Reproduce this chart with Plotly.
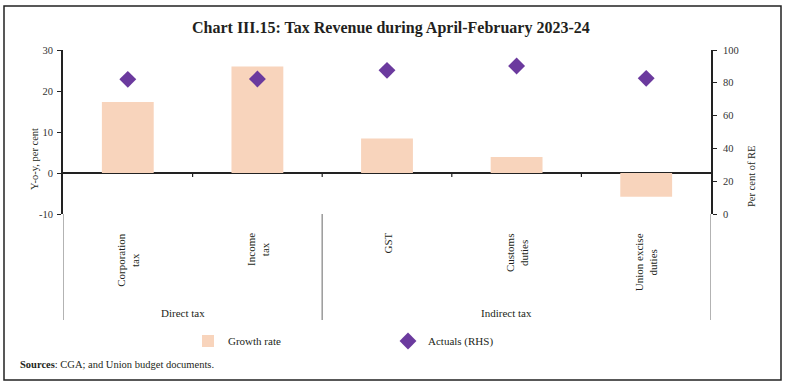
import plotly.graph_objects as go

# ---- data ----
categories = ["Corporation tax", "Income tax", "GST", "Customs duties", "Union excise duties"]
category_labels = ["Corporation<br>tax", "Income<br>tax", "GST", "Customs<br>duties", "Union excise<br>duties"]
groups = ["Direct tax", "Direct tax", "Indirect tax", "Indirect tax", "Indirect tax"]
growth_rate = [17.3, 26.0, 8.4, 3.9, -5.8]       # y-o-y, per cent (LHS)
actuals_rhs = [82.1, 82.3, 87.6, 90.2, 82.7]      # per cent of RE (RHS)
left_ticks = [-10, 0, 10, 20, 30]
left_tick_labels = ["-10", "0", "10", "20", "30"]
right_ticks = [0, 20, 40, 60, 80, 100]

# ---- layout geometry (pixels) ----
W, H = 786, 387
L, R, T, B = 63, 711, 50, 214
pw, ph = R - L, B - T


def px_x(px):
    return (px - L) / pw


def px_y(py):
    return (B - py) / ph


FONT = "Liberation Serif"
TXT = "#231f20"
BAR = "#F8D4BC"
DIA = "#6B3A9E"

fig = go.Figure()
fig.add_trace(go.Bar(
    x=categories, y=growth_rate, name="Growth rate",
    marker=dict(color=BAR, line=dict(width=0)), width=0.4,
    yaxis="y",
))
fig.add_trace(go.Scatter(
    x=categories, y=actuals_rhs, name="Actuals (RHS)", mode="markers",
    marker=dict(symbol="diamond", size=13, color=DIA),
    yaxis="y2",
))

shapes = []
# outer frame
shapes.append(dict(type="rect", xref="paper", yref="paper",
                   x0=px_x(4), x1=px_x(781), y0=px_y(380), y1=px_y(6),
                   line=dict(color="#222", width=1.5), layer="below"))
# group dividers (left, between groups, right)
group_bounds = [-0.5]
for i in range(1, len(groups)):
    if groups[i] != groups[i - 1]:
        group_bounds.append(i - 0.5)
group_bounds.append(len(groups) - 0.5)
for gb in group_bounds:
    shapes.append(dict(type="line", xref="x", yref="paper", x0=gb, x1=gb,
                       y0=0, y1=px_y(320), line=dict(color="#9a9a9a", width=1.5)))
# small category boundary ticks on the zero line
for i in range(len(categories) - 1):
    shapes.append(dict(type="line", xref="x", yref="y", x0=i + 0.5, x1=i + 0.5,
                       y0=0, y1=-1, line=dict(color="#222", width=1.2)))

annotations = []
# title
annotations.append(dict(text="<b>Chart III.15: Tax Revenue during April-February 2023-24</b>",
                        xref="paper", yref="paper", x=px_x(391), y=px_y(28),
                        xanchor="center", yanchor="middle", showarrow=False,
                        font=dict(family=FONT, size=16, color=TXT)))
# axis titles
annotations.append(dict(text="Y-o-y, per cent", xref="paper", yref="paper",
                        x=px_x(34), y=px_y(159), textangle=-90, showarrow=False,
                        xanchor="center", yanchor="middle",
                        font=dict(family=FONT, size=10.5, color=TXT)))
annotations.append(dict(text="Per cent of RE", xref="paper", yref="paper",
                        x=px_x(751), y=px_y(176), textangle=-90, showarrow=False,
                        xanchor="center", yanchor="middle",
                        font=dict(family=FONT, size=10.5, color=TXT)))
# category labels
for c, lab in zip(categories, category_labels):
    annotations.append(dict(text=lab, xref="x", yref="paper", x=c, y=px_y(231),
                            textangle=-90, showarrow=False, xanchor="center",
                            yanchor="top", align="center",
                            font=dict(family=FONT, size=11, color=TXT)))
# group labels
seen = []
for g in groups:
    if g not in seen:
        seen.append(g)
for g in seen:
    idx = [i for i, gg in enumerate(groups) if gg == g]
    annotations.append(dict(text=g, xref="x", yref="paper",
                            x=(idx[0] + idx[-1]) / 2, xshift=-10, y=px_y(313),
                            showarrow=False, xanchor="center", yanchor="middle",
                            font=dict(family=FONT, size=11, color=TXT)))
# source note
annotations.append(dict(text="<b>Sources</b>: CGA; and Union budget documents.",
                        xref="paper", yref="paper", x=px_x(18), y=px_y(364),
                        xanchor="left", yanchor="middle", showarrow=False,
                        font=dict(family=FONT, size=10.5, color=TXT)))

fig.update_layout(
    width=W, height=H,
    margin=dict(l=L, r=W - R, t=T, b=H - B, pad=0),
    paper_bgcolor="white", plot_bgcolor="white",
    font=dict(family=FONT, size=10.5, color=TXT),
    showlegend=True,
    legend=dict(orientation="h", x=px_x(188), y=px_y(341), xanchor="left",
                yanchor="middle", entrywidth=155, entrywidthmode="pixels",
                font=dict(family=FONT, size=11, color=TXT),
                bgcolor="rgba(0,0,0,0)"),
    xaxis=dict(type="category", range=[-0.5, len(categories) - 0.5],
               showticklabels=False, ticks="", showline=False, showgrid=False,
               zeroline=False, fixedrange=True),
    yaxis=dict(range=[-10, 30], tickvals=left_ticks, ticktext=left_tick_labels,
               ticks="outside", ticklen=4,
               tickwidth=1.2, tickcolor="#222", showline=True, linecolor="#222",
               linewidth=2, showgrid=False, zeroline=True, zerolinecolor="#222",
               zerolinewidth=2, tickfont=dict(family=FONT, size=10.5, color="#333"),
               ticklabelstandoff=2),
    yaxis2=dict(range=[0, 100], tickvals=right_ticks, overlaying="y", side="right",
                ticks="outside", ticklen=4, tickwidth=1.2, tickcolor="#222",
                showline=True, linecolor="#222", linewidth=2, showgrid=False,
                zeroline=False, tickfont=dict(family=FONT, size=10.5, color="#333"),
                ticklabelstandoff=4),
    shapes=shapes,
    annotations=annotations,
)

fig.write_html("out.html", config={"displayModeBar": False},
               post_script="document.body.style.margin='0';document.body.style.overflow='hidden';")
